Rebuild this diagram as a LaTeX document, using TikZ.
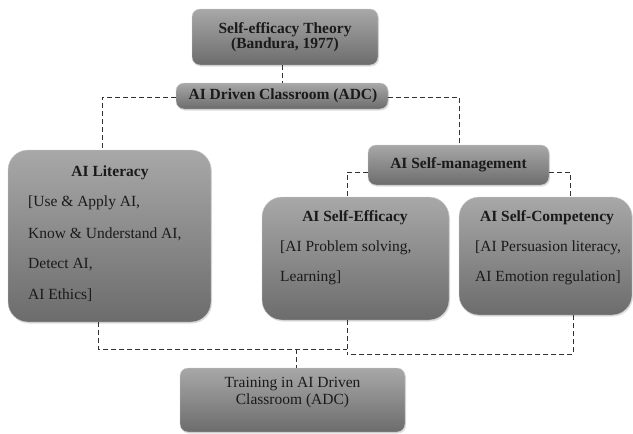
\documentclass[tikz,border=0pt]{standalone}
\usepackage{fontspec}
\setmainfont{Liberation Serif}
\usetikzlibrary{shadows}
\definecolor{gtop}{HTML}{A8A8A8}
\definecolor{gbot}{HTML}{6C6C6C}
\definecolor{ink}{HTML}{1A1A1A}
\definecolor{conn}{HTML}{333333}
\tikzset{
  box/.style={rounded corners=#1, top color=gtop, bottom color=gbot, draw=gray!40, line width=0.4pt,
    drop shadow={opacity=0.25, shadow xshift=1pt, shadow yshift=-1.5pt}, inner sep=0pt},
  box/.default=8pt,
  ttl/.style={font=\fontsize{15.5}{16}\selectfont\bfseries, text=ink, inner sep=0pt},
  bdy/.style={font=\fontsize{15.5}{16}\selectfont, text=ink, inner sep=0pt, anchor=west},
  link/.style={draw=conn, line width=1pt, dash pattern=on 5pt off 3pt}
}
\begin{document}
\begin{tikzpicture}[x=1pt,y=-1pt]
\useasboundingbox (0,0) rectangle (633,434);
% boxes
\path[box] (192,9) rectangle (378,65);
\node[ttl, align=center, font=\fontsize{15.5}{15.5}\selectfont\bfseries] (toptxt) at (285,37) {Self-efficacy Theory\\(Bandura, 1977)};
\path[box] (176,83) rectangle (388,109);
\node[ttl] (adc) at (283,96) {AI Driven Classroom (ADC)};
\path[box=20pt] (8,150) rectangle (211,322);
\node[ttl] (littl) at (110,173) {AI Literacy};
\node[bdy] (l1) at (28,203) {[Use \& Apply AI,};
\node[bdy] (l2) at (28,234) {Know \& Understand AI,};
\node[bdy] (l3) at (28,265) {Detect AI,};
\node[bdy] (l4) at (28,295) {AI Ethics]};
\path[box] (368,145) rectangle (549,185);
\node[ttl] (sm) at (458.5,165) {AI Self-management};
\path[box=20pt] (262,197) rectangle (449,320);
\node[ttl] (efft) at (355,218) {AI Self-Efficacy};
\node[bdy] (e1) at (280,248) {[AI Problem solving,};
\node[bdy] (e2) at (280,278) {Learning]};
\path[box=20pt] (459,197) rectangle (632,315);
\node[ttl] (compt) at (547,218) {AI Self-Competency};
\node[bdy] (c1) at (475,248) {[AI Persuasion literacy,};
\node[bdy] (c2) at (475,278) {AI Emotion regulation]};
\path[box] (180,368) rectangle (405,432);
\node[font=\fontsize{15.5}{17}\selectfont, text=ink, align=center, inner sep=0pt] (train) at (292.5,393) {Training in AI Driven\\Classroom (ADC)};
% anchor coordinates on box edges
\coordinate (topS) at (282,65);
\coordinate (adcN) at (282,83);
\coordinate (adcW) at (176,97);
\coordinate (adcE) at (388,97);
\coordinate (litN) at (102,150);
\coordinate (smN) at (459,145);
\coordinate (smW) at (368,172);
\coordinate (smE) at (549,172);
\coordinate (effN) at (347,197);
\coordinate (compN) at (570,197);
\coordinate (litS) at (98,322);
\coordinate (effS) at (347,320);
\coordinate (compS) at (573,315);
\coordinate (trainN) at (296,368);
\coordinate (j1) at (347,349);
\coordinate (j2) at (347,354);
\coordinate (j3) at (296,349);
% connectors
\draw[link] (topS) -- (adcN);
\draw[link] (adcW) -| (litN);
\draw[link] (adcE) -| (smN);
\draw[link] (smW) -| (effN);
\draw[link] (smE) -| (compN);
\draw[link] (litS) |- (j1);
\draw[link] (effS) -- (j2);
\draw[link] (compS) |- (j2);
\draw[link] (j3) -- (trainN);
\end{tikzpicture}
\end{document}
